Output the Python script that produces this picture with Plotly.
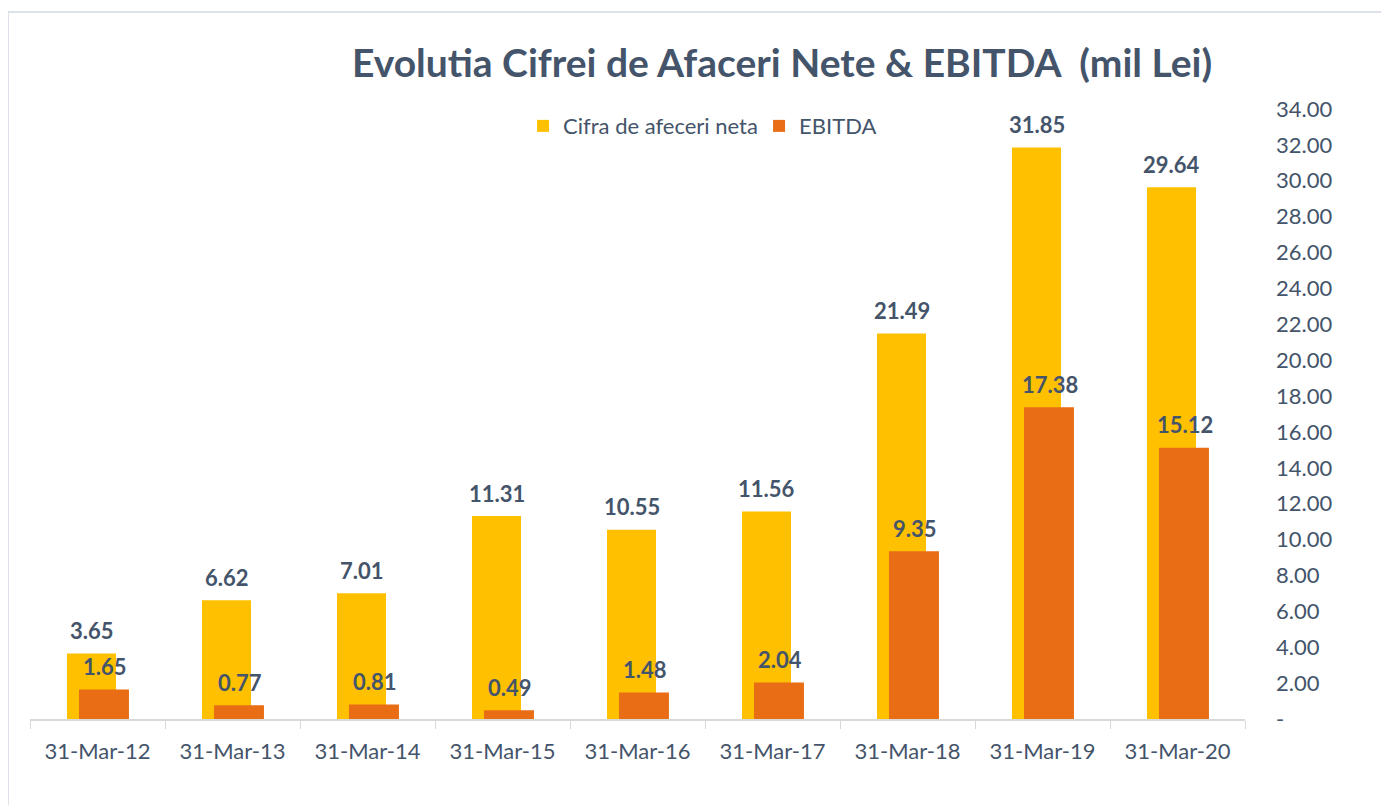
import plotly.graph_objects as go

categories = ["31-Mar-12", "31-Mar-13", "31-Mar-14", "31-Mar-15", "31-Mar-16",
              "31-Mar-17", "31-Mar-18", "31-Mar-19", "31-Mar-20"]
cifra = [3.65, 6.62, 7.01, 11.31, 10.55, 11.56, 21.49, 31.85, 29.64]
ebitda = [1.65, 0.77, 0.81, 0.49, 1.48, 2.04, 9.35, 17.38, 15.12]
y_tickvals = list(range(0, 35, 2))
y_ticktext = ["-"] + [f"{v:.2f}" for v in y_tickvals[1:]]

TXT = "#44546A"
FONT = "Lato"

fig = go.Figure()
fig.add_trace(go.Bar(
    x=categories, y=cifra, name="Cifra de afeceri neta",
    marker=dict(color="#FFC000", line=dict(width=0)),
    width=0.363, offset=-0.226,
))
fig.add_trace(go.Bar(
    x=categories, y=ebitda, name="EBITDA",
    marker=dict(color="#E96D15", line=dict(width=0)),
    width=0.37, offset=-0.137,
))

annotations = []
for c, v in zip(categories, cifra):
    annotations.append(dict(x=c, y=v, text=f"{v:.2f}", showarrow=False,
                            xshift=-6, yshift=23, yanchor="middle",
                            font=dict(family=FONT, size=22, color=TXT, weight="bold")))
for c, v in zip(categories, ebitda):
    annotations.append(dict(x=c, y=v, text=f"{v:.2f}", showarrow=False,
                            xshift=7, yshift=23, yanchor="middle",
                            font=dict(family=FONT, size=22, color=TXT, weight="bold")))

fig.update_layout(
    width=1389, height=805,
    margin=dict(l=22, r=152, t=101, b=94),
    paper_bgcolor="white", plot_bgcolor="white",
    barmode="overlay",
    font=dict(family=FONT, color=TXT, size=22),
    title=dict(text="<b>Evolutia Cifrei de Afaceri Nete & EBITDA  (mil Lei)</b>",
               xref="paper", x=0.619, xanchor="center",
               y=1 - 55 / 805, yanchor="middle",
               font=dict(family=FONT, size=39, color=TXT)),
    legend=dict(orientation="h", x=0.4058, xanchor="left", y=0.972, yanchor="middle",
                entrywidth=191, entrywidthmode="pixels",
                font=dict(family=FONT, size=22, color=TXT), bgcolor="rgba(0,0,0,0)"),
    showlegend=True,
    annotations=annotations,
    shapes=[dict(type="rect", xref="paper", yref="paper",
                 x0=(0 - 22) / 1215, x1=1.3, y0=-0.3, y1=(711 - 4) / 610,
                 line=dict(color="#DDE2EA", width=2), fillcolor="rgba(0,0,0,0)",
                 layer="below")],
)
fig.update_xaxes(
    type="category", showline=True, linecolor="#D9D9D9", linewidth=1.5,
    ticks="outside", tickson="boundaries", ticklen=8, tickcolor="#D9D9D9",
    showgrid=False, tickfont=dict(family=FONT, size=22, color=TXT),
    ticklabelstandoff=12,
)
fig.update_yaxes(
    side="right", range=[0, 34], tickvals=y_tickvals, ticktext=y_ticktext,
    showgrid=False, showline=False, zeroline=False, ticks="",
    tickfont=dict(family=FONT, size=22, color=TXT), ticklabelstandoff=30,
)

fig.write_html("out.html")
